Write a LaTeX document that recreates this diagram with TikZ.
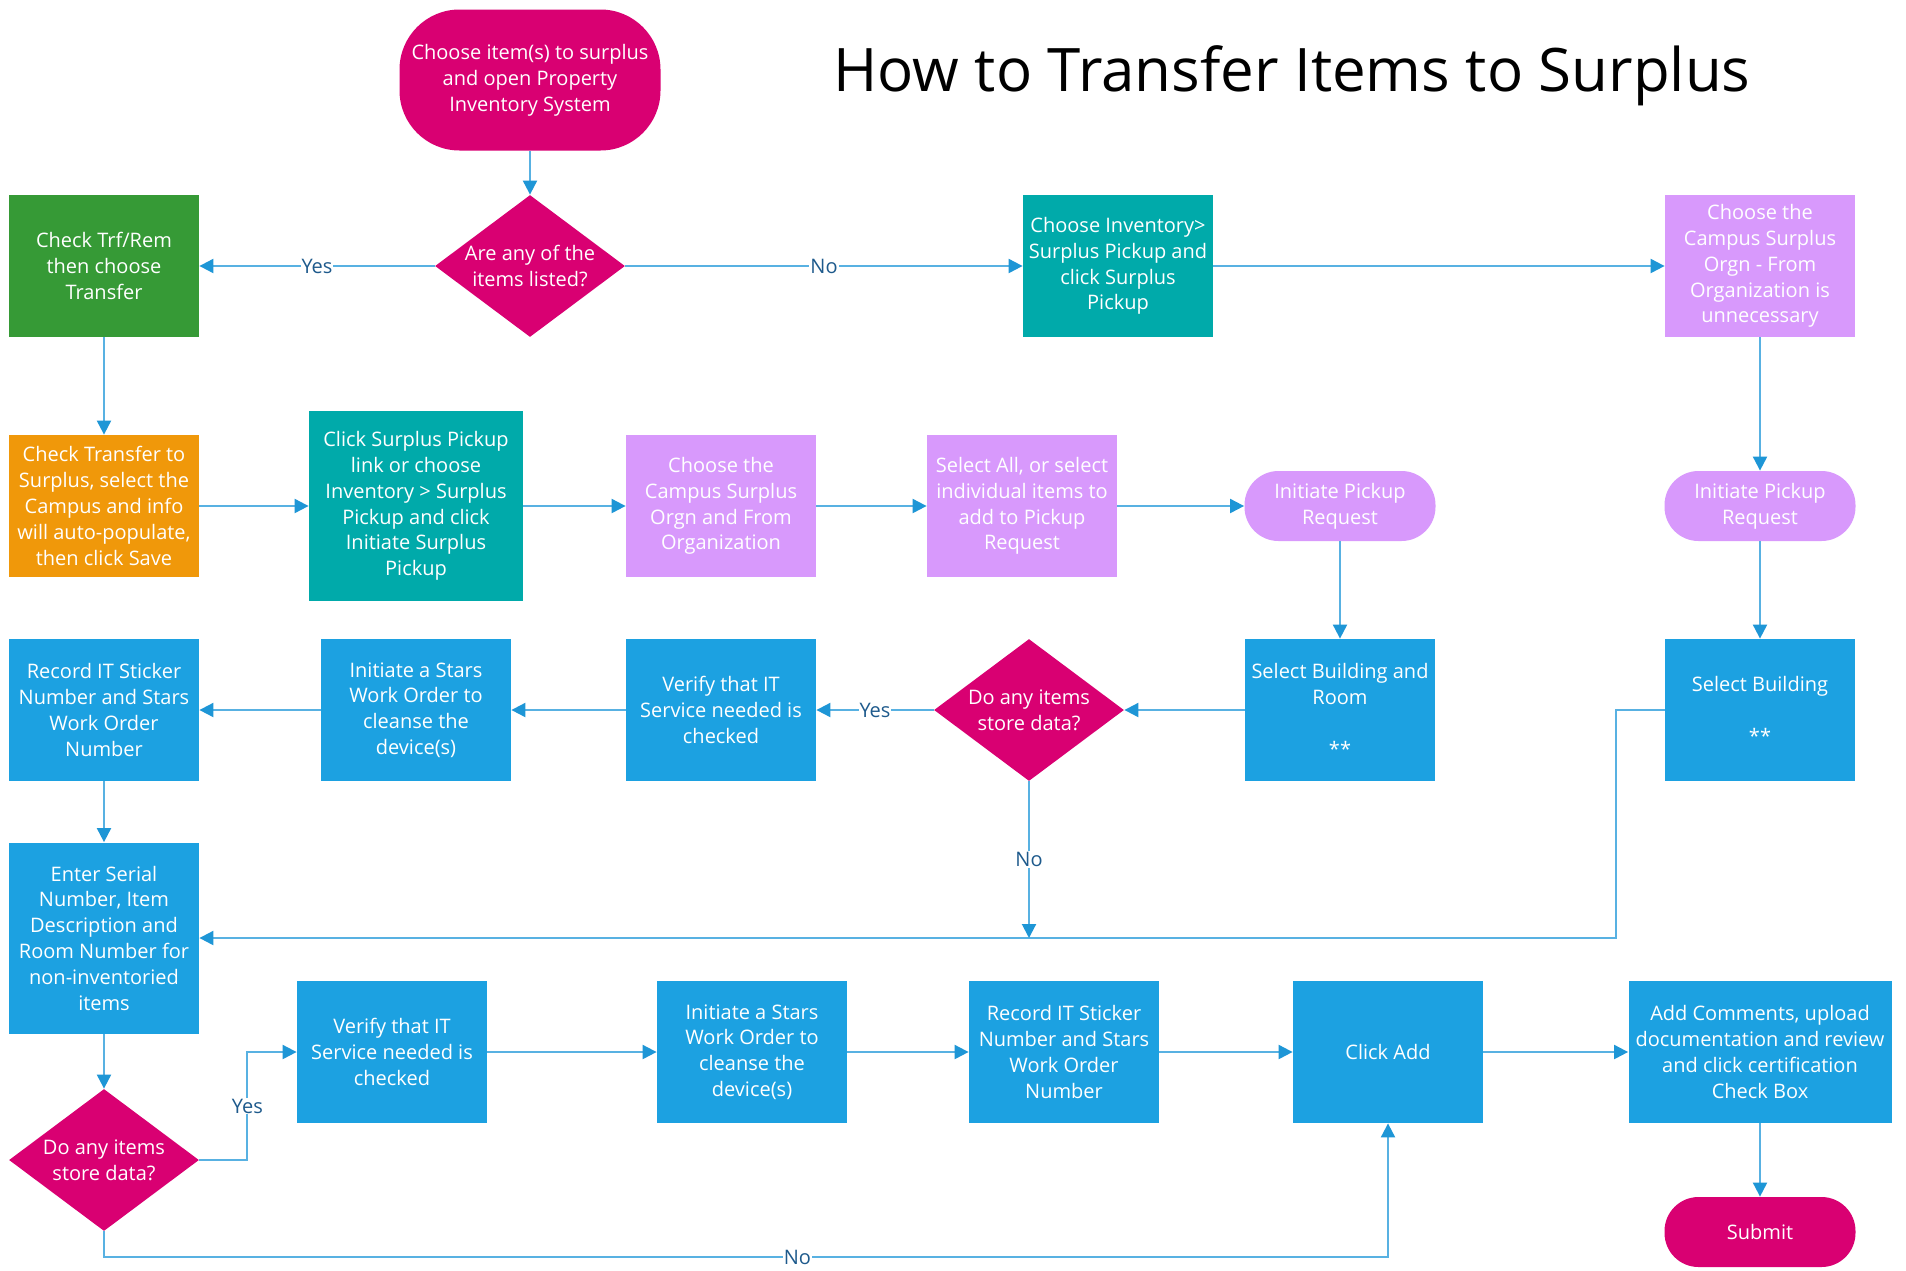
\documentclass[tikz,border=0pt]{standalone}
\usepackage{fontspec}
\setmainfont{Open Sans}
\usetikzlibrary{shapes.geometric,arrows.meta}

\definecolor{pinkred}{RGB}{217,0,114}
\definecolor{leafgreen}{RGB}{54,154,54}
\definecolor{tealbox}{RGB}{0,170,170}
\definecolor{lilac}{RGB}{216,153,252}
\definecolor{amber}{RGB}{240,152,10}
\definecolor{skyblue}{RGB}{28,161,225}
\definecolor{flowline}{RGB}{88,177,226}
\definecolor{tipblue}{RGB}{30,150,214}
\definecolor{labelblue}{RGB}{30,90,140}

\begin{document}
\begin{tikzpicture}[x=0.5pt,y=-0.5pt,
            -{Triangle[width=7pt,length=7pt,color=tipblue]},
            box/.style={rectangle,minimum width=95pt,minimum height=71pt,inner sep=1pt,
                align=center,text=white,font=\fontsize{10}{12.9}\selectfont},
            decision/.style={diamond,aspect=1.34,inner sep=-2pt,minimum width=95pt,
                minimum height=71pt,fill=pinkred,align=center,text=white,
                font=\fontsize{10}{12.9}\selectfont},
            terminal/.style={rectangle,rounded corners=17pt,minimum width=95.5pt,
                minimum height=35pt,align=center,text=white,
                font=\fontsize{10}{12.9}\selectfont},
            link/.style={draw=flowline,line width=1pt},
            lbl/.style={fill=white,text=labelblue,inner sep=0.5pt,
                font=\fontsize{10}{12}\selectfont}]

        \fill[white] (0,0) rectangle (1906,1270);
        \useasboundingbox (0,0) rectangle (1906,1270);

        % Title
        \node (title) at (1292,76) {\fontsize{30}{36}\selectfont How to Transfer Items to Surplus};

        % Define vertices
        \node[terminal,fill=pinkred,minimum width=130.5pt,minimum height=70.5pt,rounded corners=30pt]
            (start) at (530,80) {Choose item(s) to surplus\\and open Property\\Inventory System};
        \node[decision] (q1) at (530,266) {Are any of the\\items listed?};
        \node[box,fill=leafgreen] (trf) at (104,266) {Check Trf/Rem\\then choose\\Transfer};
        \node[box,fill=tealbox] (inv) at (1118,266) {Choose Inventory>\\Surplus Pickup and\\click Surplus\\Pickup};
        \node[box,fill=lilac] (orgn) at (1760,266) {Choose the\\Campus Surplus\\Orgn - From\\Organization is\\unnecessary};

        \node[box,fill=amber] (save) at (104,506) {Check Transfer to\\Surplus, select the\\Campus and info\\will auto-populate,\\then click Save};
        \node[box,fill=tealbox,minimum width=107pt,minimum height=95pt] (click) at (416,506) {Click Surplus Pickup\\link or choose\\Inventory > Surplus\\Pickup and click\\Initiate Surplus\\Pickup};
        \node[box,fill=lilac] (campus) at (721,506) {Choose the\\Campus Surplus\\Orgn and From\\Organization};
        \node[box,fill=lilac] (selall) at (1022,506) {Select All, or select\\individual items to\\add to Pickup\\Request};
        \node[terminal,fill=lilac] (init1) at (1340,506) {Initiate Pickup\\Request};
        \node[terminal,fill=lilac] (init2) at (1760,506) {Initiate Pickup\\Request};

        \node[box,fill=skyblue] (sticker1) at (104,710) {Record IT Sticker\\Number and Stars\\Work Order\\Number};
        \node[box,fill=skyblue] (stars1) at (416,710) {Initiate a Stars\\Work Order to\\cleanse the\\device(s)};
        \node[box,fill=skyblue] (verify1) at (721,710) {Verify that IT\\Service needed is\\checked};
        \node[decision] (q2) at (1029,710) {Do any items\\store data?};
        \node[box,fill=skyblue] (room) at (1340,710) {Select Building and\\Room\\[12.9pt]**};
        \node[box,fill=skyblue] (bldg) at (1760,710) {Select Building\\[12.9pt]**};

        \node[box,fill=skyblue,minimum height=95.5pt] (serial) at (104,938) {Enter Serial\\Number, Item\\Description and\\Room Number for\\non-inventoried\\items};
        \node[decision] (q3) at (104,1160) {Do any items\\store data?};
        \node[box,fill=skyblue] (verify2) at (392,1052) {Verify that IT\\Service needed is\\checked};
        \node[box,fill=skyblue] (stars2) at (752,1052) {Initiate a Stars\\Work Order to\\cleanse the\\device(s)};
        \node[box,fill=skyblue] (sticker2) at (1064,1052) {Record IT Sticker\\Number and Stars\\Work Order\\Number};
        \node[box,fill=skyblue] (add) at (1388,1052) {Click Add};
        \node[box,fill=skyblue,minimum width=131.5pt] (comments) at (1760,1052) {Add Comments, upload\\documentation and review\\and click certification\\Check Box};
        \node[terminal,fill=pinkred] (submit) at (1760,1232) {Submit};

        \coordinate (bend) at (1616,938);
        \coordinate (join) at (q2 |- bend);

        % Draw edges
        \path[link]
            (start) edge (q1)
            (q1) edge node[lbl] {Yes} (trf)
            (q1) edge node[lbl] {No} (inv)
            (inv) edge (orgn)
            (trf) edge (save)
            (save) edge (click)
            (click) edge (campus)
            (campus) edge (selall)
            (selall) edge (init1)
            (orgn) edge (init2)
            (init2) edge (bldg)
            (init1) edge (room)
            (room) edge (q2)
            (q2) edge node[lbl] {Yes} (verify1)
            (verify1) edge (stars1)
            (stars1) edge (sticker1)
            (sticker1) edge (serial)
            (serial) edge (q3)
            (verify2) edge (stars2)
            (stars2) edge (sticker2)
            (sticker2) edge (add)
            (add) edge (comments)
            (comments) edge (submit);

        \draw[link] (bldg.west) -| (bend) -- (serial.east);
        \draw[link] (q2) -- node[lbl] {No} (join);
        \draw[link] (q3.east) -- ++(48,0) |- node[lbl,pos=0.25] {Yes} (verify2.west);
        \draw[link] (q3.south) -- ++(0,26) -| node[lbl,pos=0.27] {No} (add.south);

        \end{tikzpicture}
\end{document}
